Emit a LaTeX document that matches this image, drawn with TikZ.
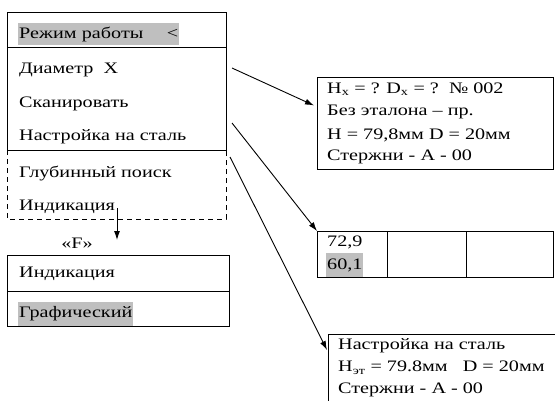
\documentclass[tikz,border=0pt]{standalone}
\usepackage{fontspec}
\setmainfont[FakeStretch=1.26]{Liberation Serif}
\usetikzlibrary{arrows}
\usetikzlibrary{arrows.meta}
\usetikzlibrary{positioning}
\tikzset{>={Latex[length=9pt, width=6pt]}}
\tikzstyle{item} = [draw=none, inner sep=1pt, anchor=west, font=\fontsize{16}{18}\selectfont]
\tikzstyle{hl} = [item, fill=gray!50]
\tikzstyle{frame} = [draw, line width=0.9pt]
\tikzstyle{panel} = [frame, anchor=north west, inner sep=0]
\tikzstyle{link} = [->, line width=0.9pt]

\begin{document}
\begin{tikzpicture}[x=1pt, y=-1pt]
\useasboundingbox (0,0) rectangle (555,400);
\clip (0,0) rectangle (555,400);
% main menu
\node [panel, minimum width=219pt, minimum height=138pt] (menu) at (7,12) {};
\draw [frame] (7,47) -- (226,47);
\draw [frame, dash pattern=on 5pt off 4pt] (7,150) -- (7,219) -- (226,219) -- (226,150);
\node [hl, text width=159pt, minimum height=22pt] (mode) at (18,34) {Режим работы\hfill<};
\node [item] (diam) at (18,70) {Диаметр\ \ X};
\node [item] (scan) at (18,104) {Сканировать};
\node [item] (steel) at (18,137) {Настройка на сталь};
\node [item] (deep) at (18,173) {Глубинный поиск};
\node [item] (ind) at (18,207) {Индикация};
% submenu
\node [item, anchor=center] (fkey) at (77,243) {«F»};
\node [panel, minimum width=222pt, minimum height=71pt] (sub) at (7,255) {};
\draw [frame] (7,291) -- (229,291);
\node [item] (ind2) at (18,274) {Индикация};
\node [hl, minimum height=24pt] (graph) at (18,314) {Графический};
\coordinate (indout) at (117,208);
\draw [link] (indout) -- ([yshift=15pt]sub.north -| indout);
% screens
\node [panel, minimum width=236pt, minimum height=92pt] (hdx) at (317,77) {};
\node [item] (h1) at (326,89) {H\textsubscript{x} = ? D\textsubscript{x} = ?\ \ № 002};
\node [item] (h2) at (326,112) {Без эталона – пр.};
\node [item] (h3) at (326,135) {H = 79,8мм D = 20мм};
\node [item] (h4) at (326,157) {Стержни - А - 00};
\node [panel, minimum width=236pt, minimum height=46pt] (tab) at (317,231) {};
\draw [frame] (387,231) -- (387,277);
\draw [frame] (466,231) -- (466,277);
\node [item] (v1) at (326,242) {72,9};
\node [hl, minimum height=24pt] (v2) at (326,265) {60,1};
\node [panel, minimum width=240pt, minimum height=90pt] (set) at (328,334) {};
\node [item] (c1) at (337,346) {Настройка на сталь};
\node [item] (c2) at (337,368) {H\textsubscript{эт} = 79.8мм\ \ \ D = 20мм};
\node [item] (c3) at (337,390) {Стержни - А - 00};
% links
\coordinate (s1) at (232,68);
\coordinate (s2) at (232,123);
\coordinate (s3) at (230,157);
\draw [link] (s1) -- ([xshift=-3pt, yshift=18pt]hdx.west);
\draw [link] (s2) -- (tab.north west);
\draw [link] (s3) -- ([xshift=-1pt, yshift=-16pt]set.north west);
\end{tikzpicture}
\end{document}
